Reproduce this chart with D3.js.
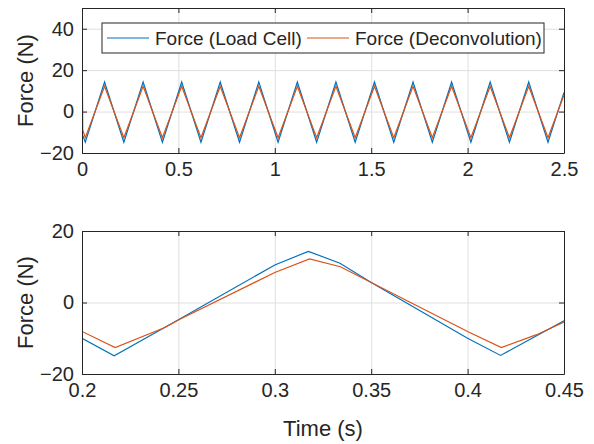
<!DOCTYPE html>
<html>
<head>
<meta charset="utf-8">
<script src="https://cdn.jsdelivr.net/npm/d3@7"></script>
<style>
  body { margin: 0; background: #fff; }
  text { font-family: "Liberation Sans", Arial, sans-serif; fill: #262626; }
</style>
</head>
<body>
<div id="chart"></div>
<script>
// top panel: vertices of the triangle waveforms
const topTime = [0, 0.0005, 0.004, 0.017, 0.117, 0.217, 0.317, 0.417, 0.517, 0.617, 0.717, 0.817, 0.917,
  1.017, 1.117, 1.217, 1.317, 1.417, 1.517, 1.617, 1.717, 1.817, 1.917, 2.017, 2.117, 2.217, 2.317, 2.417, 2.5]
const topLoadCell = [-10.5, -10.5, -11.5, -14.8, 14.3, -14.8, 14.3, -14.8, 14.3, -14.8, 14.3, -14.8, 14.3,
  -14.8, 14.3, -14.8, 14.3, -14.8, 14.3, -14.8, 14.3, -14.8, 14.3, -14.8, 14.3, -14.8, 14.3, -14.8, 9.2]
const topDeconv = [-22, 28, -9, -12.6, 12.2, -12.6, 12.2, -12.6, 12.2, -12.6, 12.2, -12.6, 12.2,
  -12.6, 12.2, -12.6, 12.2, -12.6, 12.2, -12.6, 12.2, -12.6, 12.2, -12.6, 12.2, -12.6, 12.2, -12.6, 8.0]

// bottom panel: zoom 0.2 - 0.45 s
const zoomTimeLoad = [0.2, 0.2167, 0.25, 0.3, 0.3174, 0.3338, 0.35, 0.4, 0.4171, 0.45]
const zoomLoadCell = [-10.0, -14.9, -4.8, 10.5, 14.3, 11.0, 5.6, -10.0, -14.8, -5.1]
const zoomTimeDeconv = [0.2, 0.2172, 0.243, 0.25, 0.3, 0.318, 0.334, 0.35, 0.4, 0.4175, 0.4358, 0.45]
const zoomDeconv = [-8.1, -12.6, -7.0, -4.9, 8.4, 12.2, 10.0, 5.6, -8.1, -12.6, -9.0, -5.5]

const seriesNames = ["Force (Load Cell)", "Force (Deconvolution)"]
const colors = ["#0072BD", "#D95319"]

const W = 594, H = 444
const left = 82, right = 564

const svg = d3.select("#chart").append("svg")
  .attr("width", W).attr("height", H)

svg.append("rect").attr("width", W).attr("height", H).attr("fill", "#fff")

function panel(cfg) {
  const height = cfg.bottom - cfg.top
  const width = right - left
  const x = d3.scaleLinear().domain(cfg.xDomain).range([0, width])
  const y = d3.scaleLinear().domain(cfg.yDomain).range([height, 0])

  const g = svg.append("g").attr("transform", `translate(${left},${cfg.top})`)

  // grid
  g.append("g").attr("transform", `translate(0,${height})`)
    .call(d3.axisBottom(x).tickValues(cfg.xTicks).tickSize(-height).tickFormat(""))
    .call(s => s.select(".domain").remove())
    .selectAll("line").attr("stroke", "#dfdfdf")
  g.append("g")
    .call(d3.axisLeft(y).tickValues(cfg.yTicks).tickSize(-width).tickFormat(""))
    .call(s => s.select(".domain").remove())
    .selectAll("line").attr("stroke", "#dfdfdf")

  const clipId = "clip" + cfg.top
  g.append("clipPath").attr("id", clipId)
    .append("rect").attr("width", width).attr("height", height)

  const line = d3.line().x(d => x(d[0])).y(d => y(d[1]))
  cfg.series.forEach((s, i) => {
    g.append("path")
      .datum(d3.zip(s.t, s.v))
      .attr("clip-path", `url(#${clipId})`)
      .attr("d", line)
      .attr("fill", "none")
      .attr("stroke", colors[i])
      .attr("stroke-width", 1.2)
  })

  // axes with inward ticks
  const fmt = d => d3.format("")(d)
  const xa = g.append("g").attr("transform", `translate(0,${height})`)
    .call(d3.axisBottom(x).tickValues(cfg.xTicks).tickSizeInner(-5).tickSizeOuter(0).tickPadding(9).tickFormat(fmt))
  const ya = g.append("g")
    .call(d3.axisLeft(y).tickValues(cfg.yTicks).tickSizeInner(-5).tickSizeOuter(0).tickPadding(8).tickFormat(fmt))
  const xt = g.append("g")
    .call(d3.axisTop(x).tickValues(cfg.xTicks).tickSizeInner(-5).tickSizeOuter(0).tickFormat(""))
  const yr = g.append("g").attr("transform", `translate(${width},0)`)
    .call(d3.axisRight(y).tickValues(cfg.yTicks).tickSizeInner(-5).tickSizeOuter(0).tickFormat(""))
  ;[xa, ya, xt, yr].forEach(a => {
    a.selectAll(".domain").attr("stroke", "#262626")
    a.selectAll("line").attr("stroke", "#262626")
    a.selectAll("text").style("font-size", "20px").attr("fill", "#262626")
      .style("font-family", "'Liberation Sans', Arial, sans-serif")
  })

  g.append("text")
    .attr("transform", `translate(-49,${height / 2}) rotate(-90)`)
    .attr("text-anchor", "middle")
    .style("font-size", "22px")
    .text("Force (N)")

  return { g, x, y, width, height }
}

const p1 = panel({
  top: 8, bottom: 153,
  xDomain: [0, 2.5], yDomain: [-20, 50],
  xTicks: [0, 0.5, 1, 1.5, 2, 2.5], yTicks: [-20, 0, 20, 40],
  series: [{ t: topTime, v: topLoadCell }, { t: topTime, v: topDeconv }]
})

const p2 = panel({
  top: 231, bottom: 374,
  xDomain: [0.2, 0.45], yDomain: [-20, 20],
  xTicks: [0.2, 0.25, 0.3, 0.35, 0.4, 0.45], yTicks: [-20, 0, 20],
  series: [{ t: zoomTimeLoad, v: zoomLoadCell }, { t: zoomTimeDeconv, v: zoomDeconv }]
})

p2.g.append("text")
  .attr("x", p2.width / 2).attr("y", p2.height + 62)
  .attr("text-anchor", "middle")
  .style("font-size", "22px")
  .text("Time (s)")

// legend
const lg = p1.g.append("g").attr("transform", "translate(20,15)")
lg.append("rect").attr("width", 442).attr("height", 30)
  .attr("fill", "#fff").attr("stroke", "#262626")
const itemX = [5, 205]
seriesNames.forEach((name, i) => {
  lg.append("line")
    .attr("x1", itemX[i]).attr("x2", itemX[i] + 42)
    .attr("y1", 15).attr("y2", 15)
    .attr("stroke", colors[i]).attr("stroke-width", 1.2)
  lg.append("text")
    .attr("x", itemX[i] + 48).attr("y", 15).attr("dy", "0.35em")
    .style("font-size", "19px")
    .text(name)
})
</script>
</body>
</html>
